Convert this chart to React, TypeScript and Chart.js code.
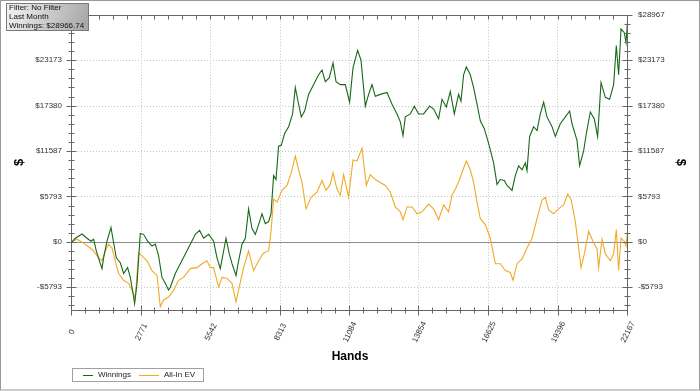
import React, { useEffect, useRef } from "react";
import { Chart, registerables } from "chart.js";

Chart.register(...registerables);

const xTickValues = [0, 2771, 5542, 8313, 11084, 13854, 16625, 19396, 22167];
const yTickValues = [-5793, 0, 5793, 11587, 17380, 23173, 28967];
const xMin = 0;
const xMax = 22167;
const yMin = -8690;
const yMax = 28967;
const xMinorDivisions = 5;
const yMinorDivisions = 5;

const infoLines = ["Filter: No Filter", "Last Month", "Winnings: $28966.74"];
const seriesNames = ["Winnings", "All-In EV"];
const xTitle = "Hands";
const yTitle = "$";

const winHands = [
  0, 132, 399, 598, 758, 861, 969, 1128, 1196, 1260,
  1395, 1555, 1635, 1766, 1926, 2057, 2217, 2324, 2456, 2496,
  2592, 2723, 2855, 3014, 3190, 3321, 3453, 3588, 3720, 3851,
  3919, 4119, 4318, 4517, 4717, 4916, 5087, 5247, 5446, 5646,
  5781, 5913, 6044, 6140, 6272, 6379, 6539, 6642, 6778, 6910,
  7041, 7177, 7308, 7440, 7575, 7707, 7838, 7934, 8038, 8133,
  8237, 8345, 8476, 8636, 8795, 8903, 9011, 9142, 9274, 9433,
  9633, 9832, 9968, 10099, 10259, 10406, 10526, 10697, 10897, 11068,
  11203, 11387, 11522, 11694, 11825, 11961, 12093, 12292, 12559, 12758,
  12958, 13089, 13197, 13289, 13488, 13648, 13819, 14018, 14258, 14417,
  14616, 14752, 14923, 15083, 15242, 15414, 15509, 15613, 15721, 15880,
  16012, 16147, 16279, 16438, 16610, 16809, 16945, 17076, 17236, 17343,
  17543, 17674, 17806, 17942, 18073, 18141, 18245, 18404, 18540, 18671,
  18803, 18938, 19138, 19269, 19468, 19668, 19839, 19935, 20134, 20238,
  20397, 20505, 20665, 20824, 20956, 21091, 21263, 21434, 21594, 21701,
  21793, 21889, 22020, 22088, 22167,
];

const winValues = [
  0, 462, 999, 462, 87, 337, -1161, -2784, -3408, -2035,
  87, 1835, 337, -2035, -2659, -4033, -3284, -4532, -7029, -7903,
  -5281, 1086, 961, 87, -537, -287, -1785, -4532, -5281, -6155,
  -5780, -4033, -2784, -1536, -287, 961, 1461, 462, 961, 87,
  -2035, -3408, -1161, 462, -1536, -2784, -4282, -2410, -287, 462,
  4207, 1710, 961, 2210, 3583, 2335, 2584, 3583, 8452, 7953,
  12198, 12323, 13821, 14695, 16318, 19689, 17941, 15943, 16692, 18815,
  20063, 21312, 21936, 20438, 20937, 22810, 20438, 20063, 20063, 17816,
  22186, 24433, 23185, 17317, 18815, 20063, 18565, 18815, 19065, 17566,
  16318, 15319, 13571, 15943, 16318, 17317, 16318, 16318, 17317, 16942,
  15694, 18191, 17192, 19189, 16318, 18815, 17941, 21312, 22311, 21312,
  19689, 17566, 15444, 14445, 12572, 10075, 7329, 7953, 7828, 7204,
  6580, 8452, 9701, 9201, 10075, 9077, 13446, 14695, 14195, 16318,
  17816, 15943, 14695, 13446, 15069, 15943, 16692, 15069, 12947, 9701,
  11574, 13821, 16568, 15694, 13446, 20313, 18440, 18191, 20063, 25057,
  21312, 27180, 26680, 25432, 28967,
];

const evHands = [
  0, 199, 462, 730, 861, 1061, 1196, 1328, 1459, 1595,
  1726, 1858, 2057, 2257, 2392, 2524, 2655, 2791, 2990, 3190,
  3389, 3520, 3652, 3851, 4051, 4250, 4449, 4717, 4984, 5183,
  5382, 5514, 5646, 5845, 5981, 6180, 6379, 6539, 6642, 6842,
  7041, 7240, 7440, 7639, 7838, 7934, 8038, 8173, 8373, 8572,
  8743, 8903, 9035, 9170, 9330, 9541, 9768, 9968, 10127, 10298,
  10406, 10566, 10697, 10829, 11028, 11203, 11363, 11562, 11734, 11893,
  12093, 12292, 12491, 12691, 12890, 13089, 13197, 13356, 13556, 13755,
  13955, 14218, 14417, 14616, 14816, 15015, 15151, 15282, 15454, 15589,
  15721, 15880, 16012, 16147, 16279, 16478, 16678, 16877, 17076, 17276,
  17475, 17583, 17742, 17942, 18141, 18340, 18540, 18739, 18870, 19002,
  19201, 19401, 19600, 19760, 19895, 20067, 20198, 20294, 20426, 20597,
  20772, 20932, 20996, 21131, 21263, 21462, 21594, 21701, 21793, 21889,
  22020, 22088, 22167,
];

const evValues = [
  0, 337, -162, -787, -1161, -2035, -2410, -1161, -287, -787,
  -2410, -4033, -4907, -5281, -6155, -7154, -1411, -1785, -2410, -3658,
  -4282, -8278, -7404, -7029, -6155, -4907, -4532, -3408, -3284, -2784,
  -2410, -3284, -3284, -5780, -4532, -4657, -5281, -7653, -6155, -3284,
  -1161, -3658, -2410, -1411, -1161, 1336, 5456, 5081, 6580, 7204,
  8827, 10949, 9201, 7578, 4207, 5706, 6330, 7828, 6580, 7329,
  8827, 6704, 5955, 8577, 5706, 10450, 10325, 11948, 7204, 8577,
  7953, 7578, 7204, 6330, 4457, 3833, 2834, 4457, 4457, 3583,
  3833, 4832, 4207, 2834, 4707, 3833, 5955, 6704, 7953, 9201,
  10325, 9201, 7578, 5081, 2959, 2210, 462, -2784, -2784, -3658,
  -3908, -4907, -2784, -2160, -787, 462, 2959, 5331, 5706, 4083,
  3583, 4207, 4707, 6080, 5456, 2584, -787, -3284, -1536, 1336,
  87, -911, -3284, 337, -1536, -2410, -1536, 1586, -3658, 462,
  87, -537, 1960,
];

const WIN_COLOR = "rgb(24,104,24)";
const EV_COLOR = "rgb(240,170,36)";
const FONT = "Arial, 'Liberation Sans', sans-serif";
const X_LABEL_ANGLE = 64;

const fmtDollar = (v: number) => (v < 0 ? "-$" : "$") + Math.abs(v);

const decorPlugin = {
  id: "decor",
  beforeDraw(chart: any) {
    const { ctx, width, height } = chart;
    ctx.save();
    ctx.fillStyle = "#ffffff";
    ctx.fillRect(0, 0, width, height);
    ctx.strokeStyle = "#9a9a9a";
    ctx.lineWidth = 1;
    ctx.strokeRect(0.5, 0.5, width - 1, height - 1.5);
    ctx.restore();
  },
  beforeDatasetsDraw(chart: any) {
    const { ctx, chartArea, scales } = chart;
    const { left, right, top, bottom } = chartArea;
    const xs = scales.x;
    const ys = scales.y;
    ctx.save();
    ctx.strokeStyle = "#c4c4c4";
    ctx.lineWidth = 1;
    ctx.setLineDash([1, 2]);
    xTickValues.forEach((v) => {
      if (v <= xMin || v >= xMax) return;
      const px = Math.round(xs.getPixelForValue(v)) - 0.5;
      ctx.beginPath();
      ctx.moveTo(px, top);
      ctx.lineTo(px, bottom);
      ctx.stroke();
    });
    yTickValues.forEach((v) => {
      if (v === 0 || v >= yMax || v <= yMin) return;
      const py = Math.round(ys.getPixelForValue(v)) + 0.5;
      ctx.beginPath();
      ctx.moveTo(left, py);
      ctx.lineTo(right, py);
      ctx.stroke();
    });
    ctx.setLineDash([]);
    ctx.strokeStyle = "#8c8c8c";
    const zy = Math.round(ys.getPixelForValue(0)) + 0.5;
    ctx.beginPath();
    ctx.moveTo(left, zy);
    ctx.lineTo(right, zy);
    ctx.stroke();
    ctx.restore();
  },
  afterDatasetsDraw(chart: any) {
    const { ctx, chartArea, scales } = chart;
    const { left, right, top, bottom } = chartArea;
    const xs = scales.x;
    const ys = scales.y;
    const L = Math.round(left) - 0.5;
    const R = Math.round(right) - 0.5;
    const T = Math.round(top) + 0.5;
    const B = Math.round(bottom) + 0.5;
    ctx.save();
    ctx.strokeStyle = "#666666";
    ctx.lineWidth = 1;
    ctx.beginPath();
    ctx.moveTo(L, T);
    ctx.lineTo(R, T);
    ctx.moveTo(L, T);
    ctx.lineTo(L, B + 3);
    ctx.moveTo(R, T);
    ctx.lineTo(R, B + 3);
    ctx.moveTo(L, B);
    ctx.lineTo(R, B);
    ctx.stroke();

    // x ticks
    const xStep = (xMax - xMin) / ((xTickValues.length - 1) * xMinorDivisions);
    ctx.beginPath();
    for (let i = 0; i <= (xTickValues.length - 1) * xMinorDivisions; i++) {
      const v = xMin + i * xStep;
      const px = Math.round(xs.getPixelForValue(v)) - 0.5;
      const major = i % xMinorDivisions === 0;
      const len = major ? 5 : 3;
      ctx.moveTo(px, B - len);
      ctx.lineTo(px, B + len);
      ctx.moveTo(px, T);
      ctx.lineTo(px, T + 4);
    }
    // y ticks
    const yStep = yMax / ((yTickValues.length - 2) * yMinorDivisions);
    const kStart = Math.ceil(yMin / yStep);
    const kEnd = Math.floor(yMax / yStep + 0.001);
    for (let k = kStart; k <= kEnd; k++) {
      const v = k * yStep;
      const py = Math.round(ys.getPixelForValue(v)) + 0.5;
      const major = k % yMinorDivisions === 0;
      const len = major ? 5 : 3;
      ctx.moveTo(L - len, py);
      ctx.lineTo(L + len, py);
      ctx.moveTo(R - len, py);
      ctx.lineTo(R + len, py);
    }
    ctx.stroke();

    // x tick labels (rotated, centred under each tick)
    ctx.fillStyle = "#333333";
    ctx.font = "8px " + FONT;
    ctx.textAlign = "center";
    ctx.textBaseline = "middle";
    xTickValues.forEach((v) => {
      const px = xs.getPixelForValue(v);
      ctx.save();
      ctx.translate(px, bottom + 22);
      ctx.rotate((-X_LABEL_ANGLE * Math.PI) / 180);
      ctx.fillText(String(v), 0, 0);
      ctx.restore();
    });

    // axis titles
    ctx.fillStyle = "#000000";
    ctx.font = "bold 13px " + FONT;
    ctx.textAlign = "center";
    ctx.textBaseline = "middle";
    const midY = (top + bottom) / 2;
    ctx.save();
    ctx.translate(19, midY);
    ctx.rotate(-Math.PI / 2);
    ctx.fillText(yTitle, 0, 0);
    ctx.restore();
    ctx.save();
    ctx.translate(681, midY);
    ctx.rotate(Math.PI / 2);
    ctx.fillText(yTitle, 0, 0);
    ctx.restore();
    ctx.font = "bold 12px " + FONT;
    ctx.fillText(xTitle, (left + right) / 2, 357);

    // legend
    ctx.fillStyle = "#ffffff";
    ctx.fillRect(72, 368, 131, 13);
    ctx.strokeStyle = "#a0a0a0";
    ctx.strokeRect(72.5, 368.5, 131, 13);
    ctx.lineWidth = 1;
    ctx.strokeStyle = WIN_COLOR;
    ctx.beginPath();
    ctx.moveTo(83, 375.5);
    ctx.lineTo(93, 375.5);
    ctx.stroke();
    ctx.strokeStyle = EV_COLOR;
    ctx.beginPath();
    ctx.moveTo(139, 375.5);
    ctx.lineTo(159, 375.5);
    ctx.stroke();
    ctx.fillStyle = "#222222";
    ctx.font = "8px " + FONT;
    ctx.textAlign = "left";
    ctx.textBaseline = "middle";
    ctx.fillText(seriesNames[0], 98, 375);
    ctx.fillText(seriesNames[1], 164, 375);

    // info box
    const g = ctx.createLinearGradient(6, 3, 89, 31);
    g.addColorStop(0, "#f4f4f4");
    g.addColorStop(1, "#a4a4a4");
    ctx.fillStyle = g;
    ctx.fillRect(6, 3, 83, 28);
    ctx.strokeStyle = "#7a7a7a";
    ctx.strokeRect(6.5, 3.5, 82, 27);
    ctx.fillStyle = "#111111";
    ctx.font = "8px " + FONT;
    ctx.textBaseline = "middle";
    infoLines.forEach((t, i) => ctx.fillText(t, 9, 8 + i * 8.7));
    ctx.restore();
  },
};

export default function App() {
  const ref = useRef<HTMLCanvasElement>(null);
  useEffect(() => {
    document.body.style.margin = "0";
    const yAxis = (position: "left" | "right") => ({
      type: "linear" as const,
      position,
      min: yMin,
      max: yMax,
      afterBuildTicks: (s: any) => {
        s.ticks = yTickValues.map((v) => ({ value: v }));
      },
      afterFit: (s: any) => {
        s.width = 72;
      },
      grid: { display: false, drawTicks: false },
      border: { display: false },
      ticks: {
        autoSkip: false,
        padding: 10,
        color: "#333333",
        font: { family: FONT, size: 8 },
        callback: (v: any) => fmtDollar(Number(v)),
      },
    });
    const chart = new Chart(ref.current as HTMLCanvasElement, {
      type: "line",
      data: {
        datasets: [
          {
            label: seriesNames[0],
            data: winHands.map((h, i) => ({ x: h, y: winValues[i] })),
            borderColor: WIN_COLOR,
            borderWidth: 1.1,
            pointRadius: 0,
            tension: 0,
            yAxisID: "y",
          },
          {
            label: seriesNames[1],
            data: evHands.map((h, i) => ({ x: h, y: evValues[i] })),
            borderColor: EV_COLOR,
            borderWidth: 1.1,
            pointRadius: 0,
            tension: 0,
            yAxisID: "y",
          },
        ],
      },
      options: {
        animation: false,
        responsive: false,
        devicePixelRatio: 1,
        layout: { padding: { top: 10, left: 0, right: 0, bottom: 0 } },
        plugins: { legend: { display: false }, tooltip: { enabled: false }, title: { display: false } },
        scales: {
          x: {
            type: "linear",
            min: xMin,
            max: xMax,
            afterBuildTicks: (s: any) => {
              s.ticks = xTickValues.map((v) => ({ value: v }));
            },
            afterFit: (s: any) => {
              s.height = 81;
            },
            grid: { display: false, drawTicks: false },
            border: { display: false },
            ticks: { display: false },
          },
          y: yAxis("left"),
          y2: yAxis("right"),
        },
      },
      plugins: [decorPlugin],
    } as any);
    return () => chart.destroy();
  }, []);
  return (
    <div style={{ position: "absolute", left: 0, top: 0, width: 700, height: 391 }}>
      <canvas ref={ref} width={700} height={391} style={{ display: "block" }} />
    </div>
  );
}
